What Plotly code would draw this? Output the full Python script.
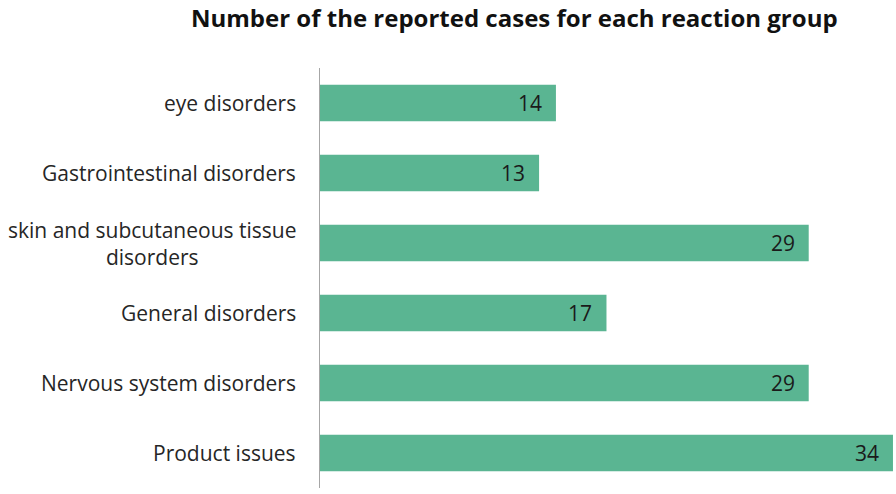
import plotly.graph_objects as go

categories = ["eye disorders", "Gastrointestinal disorders",
              "skin and subcutaneous tissue<br>disorders", "General disorders",
              "Nervous system disorders", "Product issues"]
values = [14, 13, 29, 17, 29, 34]
title = "Number of the reported cases for each reaction group"

FONT = "Open Sans"
fig = go.Figure(go.Bar(
    x=values, y=categories, orientation="h",
    marker=dict(color="#5ab592", line=dict(width=0)),
    width=0.52,
    cliponaxis=False, hoverinfo="skip",
))

for c, v in zip(categories, values):
    fig.add_annotation(x=0, xref="paper", y=c, yref="y", text=c, showarrow=False,
                       xanchor="right", xshift=-22, align="center",
                       font=dict(family=FONT, size=21, color="#262626"))
    fig.add_annotation(x=v, xref="x", y=c, yref="y", text=str(v), showarrow=False,
                       xanchor="right", xshift=-12,
                       font=dict(family=FONT, size=21, color="#1a1a1a"))

fig.update_layout(
    width=896, height=494,
    margin=dict(l=320, r=0, t=68, b=6),
    paper_bgcolor="white", plot_bgcolor="white",
    showlegend=False,
    title=dict(text="<b>" + title + "</b>", x=0.574, xanchor="center", y=0.962, yanchor="middle",
               font=dict(family=FONT, size=24, color="#111")),
    xaxis=dict(range=[0, 34.18], visible=False),
    yaxis=dict(autorange="reversed", showticklabels=False, showline=True,
               linecolor="#a6a6a6", linewidth=1, ticks="", showgrid=False, zeroline=False),
    font=dict(family=FONT),
)
fig.write_html("out.html", config={"displayModeBar": False},
               post_script="document.body.style.margin='0';document.body.style.overflow='hidden';")
